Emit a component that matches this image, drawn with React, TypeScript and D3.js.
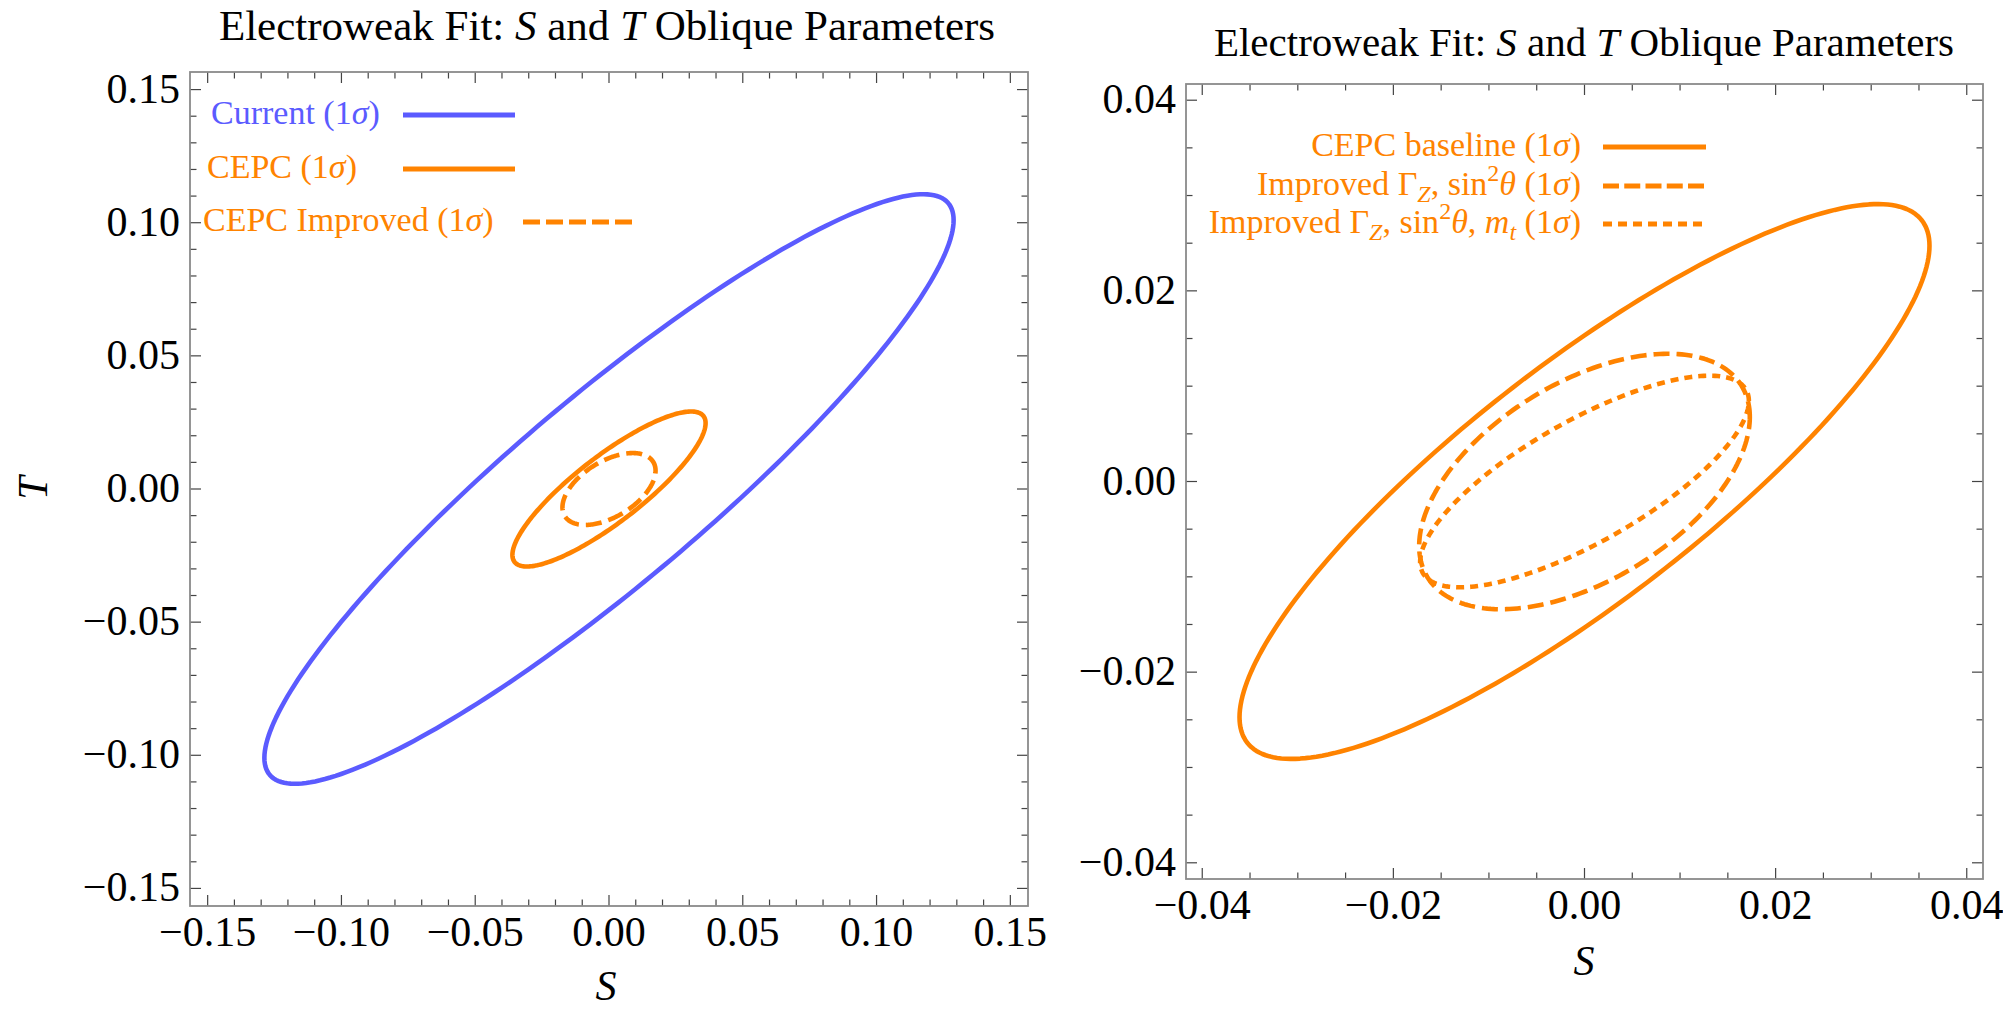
import React from "react";
import * as d3 from "d3";

// ---------- data ----------
// Left panel contours: S extent, T extent, correlation
const leftNames = ["Current", "CEPC", "CEPC Improved"];
const leftSExtent = [0.1288, 0.0361, 0.0174];
const leftTExtent = [0.1107, 0.0291, 0.0135];
const leftRho = [0.912, 0.85, 0.51];

// Right panel contours
const rightNames = ["CEPC baseline", "Improved GammaZ sin2theta", "Improved GammaZ sin2theta mt"];
const rightSExtent = [0.0361, 0.0173, 0.0172];
const rightTExtent = [0.0291, 0.0134, 0.0111];
const rightRho = [0.85, 0.505, 0.76];

const leftMajorTicks = [-0.15, -0.1, -0.05, 0, 0.05, 0.1, 0.15];
const rightMajorTicks = [-0.04, -0.02, 0, 0.02, 0.04];

// ---------- style ----------
const BLUE = "#5b5bff";
const ORANGE = "#ff8300";
const FONT = "'Liberation Serif', 'DejaVu Serif', serif";
const DASHED = "16 7";
const DOTTED = "8 6";

type Contour = { s: number; t: number; rho: number; color: string; dash?: string };

function ellipsePoints(c: Contour): [number, number][] {
  const n = 240;
  const pts: [number, number][] = [];
  const k = Math.sqrt(1 - c.rho * c.rho);
  for (let i = 0; i < n; i++) {
    const th = (2 * Math.PI * i) / n;
    pts.push([c.s * Math.cos(th), c.t * (c.rho * Math.cos(th) + k * Math.sin(th))]);
  }
  return pts;
}

const fmt = (v: number) => d3.format(".2f")(v).replace("-", "\u2212");

type PanelProps = {
  x0: number; x1: number; y0: number; y1: number;
  dom: number;
  major: number[];
  minorStep: number;
  contours: Contour[];
  clipId: string;
};

function Panel(p: PanelProps) {
  const xs = d3.scaleLinear().domain([-p.dom, p.dom]).range([p.x0, p.x1]);
  const ys = d3.scaleLinear().domain([-p.dom, p.dom]).range([p.y1, p.y0]);
  const minor = d3.range(Math.ceil(-p.dom / p.minorStep), Math.floor(p.dom / p.minorStep) + 1).map((i) => i * p.minorStep);
  const isMajor = (v: number) => p.major.some((m) => Math.abs(m - v) < p.minorStep / 10);
  const line = d3.line<[number, number]>().x((d) => xs(d[0])).y((d) => ys(d[1])).curve(d3.curveLinearClosed);
  const ML = 11, mL = 6.5;
  return (
    <g>
      <defs>
        <clipPath id={p.clipId}>
          <rect x={p.x0} y={p.y0} width={p.x1 - p.x0} height={p.y1 - p.y0} />
        </clipPath>
      </defs>
      <g clipPath={`url(#${p.clipId})`}>
        {p.contours.map((c, i) => (
          <path key={i} d={line(ellipsePoints(c)) || ""} fill="none" stroke={c.color} strokeWidth={4.6}
            strokeDasharray={c.dash} strokeLinejoin="round" />
        ))}
      </g>
      {/* ticks */}
      <g stroke="#444" strokeWidth={1.2}>
        {minor.map((v, i) => {
          const L = isMajor(v) ? ML : mL;
          const X = xs(v), Y = ys(v);
          return (
            <g key={i}>
              <line x1={X} x2={X} y1={p.y1} y2={p.y1 - L} />
              <line x1={X} x2={X} y1={p.y0} y2={p.y0 + L} />
              <line x1={p.x0} x2={p.x0 + L} y1={Y} y2={Y} />
              <line x1={p.x1} x2={p.x1 - L} y1={Y} y2={Y} />
            </g>
          );
        })}
      </g>
      <rect x={p.x0} y={p.y0} width={p.x1 - p.x0} height={p.y1 - p.y0} fill="none" stroke="#8a8a8a" strokeWidth={1.8} />
      {/* tick labels */}
      <g fontFamily={FONT} fontSize={42} fill="#000">
        {p.major.map((v, i) => (
          <text key={"x" + i} x={xs(v)} y={p.y1 + 40} textAnchor="middle">{fmt(v)}</text>
        ))}
        {p.major.map((v, i) => (
          <text key={"y" + i} x={p.x0 - 10} y={ys(v) + 13} textAnchor="end">{fmt(v)}</text>
        ))}
      </g>
    </g>
  );
}

export default function App() {
  const leftContours: Contour[] = leftNames.map((_, i) => ({
    s: leftSExtent[i], t: leftTExtent[i], rho: leftRho[i],
    color: i === 0 ? BLUE : ORANGE, dash: i === 2 ? DASHED : undefined,
  }));
  const rightContours: Contour[] = rightNames.map((_, i) => ({
    s: rightSExtent[i], t: rightTExtent[i], rho: rightRho[i],
    color: ORANGE, dash: i === 1 ? DASHED : i === 2 ? DOTTED : undefined,
  }));

  const L = { x0: 190, x1: 1028, y0: 72, y1: 906 };
  const R = { x0: 1186, x1: 1983, y0: 84, y1: 879 };

  return (
    <svg width={2003} height={1011} style={{ position: "absolute", left: 0, top: 0, background: "#fff" }}
      fontFamily={FONT}>
      <rect x={0} y={0} width={2003} height={1011} fill="#fff" />
      {/* titles */}
      <text x={607} y={40} textAnchor="middle" fontSize={43}>
        Electroweak Fit: <tspan fontStyle="italic">S</tspan> and <tspan fontStyle="italic">T</tspan> Oblique Parameters
      </text>
      <text x={1584} y={56} textAnchor="middle" fontSize={41}>
        Electroweak Fit: <tspan fontStyle="italic">S</tspan> and <tspan fontStyle="italic">T</tspan> Oblique Parameters
      </text>

      <Panel {...L} dom={0.1566} major={leftMajorTicks} minorStep={0.01} contours={leftContours} clipId="clipL" />
      <Panel {...R} dom={0.0417} major={rightMajorTicks} minorStep={0.005} contours={rightContours} clipId="clipR" />

      {/* axis labels */}
      <text x={606} y={1000} textAnchor="middle" fontSize={42} fontStyle="italic">S</text>
      <text x={1584} y={975} textAnchor="middle" fontSize={42} fontStyle="italic">S</text>
      <text transform="translate(47,488) rotate(-90)" textAnchor="middle" fontSize={42} fontStyle="italic">T</text>

      {/* left legend */}
      <g fontSize={34}>
        <text x={211} y={124} fill={BLUE}>Current (1<tspan fontStyle="italic">σ</tspan>)</text>
        <line x1={403} x2={515} y1={115} y2={115} stroke={BLUE} strokeWidth={5} />
        <text x={207} y={178} fill={ORANGE}>CEPC (1<tspan fontStyle="italic">σ</tspan>)</text>
        <line x1={403} x2={515} y1={169} y2={169} stroke={ORANGE} strokeWidth={5} />
        <text x={203} y={231} fill={ORANGE}>CEPC Improved (1<tspan fontStyle="italic">σ</tspan>)</text>
        <line x1={523} x2={632} y1={222} y2={222} stroke={ORANGE} strokeWidth={5} strokeDasharray="17 6" />
      </g>

      {/* right legend */}
      <g fontSize={34} fill={ORANGE}>
        <text x={1581} y={156} textAnchor="end">CEPC baseline (1<tspan fontStyle="italic">σ</tspan>)</text>
        <line x1={1603} x2={1706} y1={147} y2={147} stroke={ORANGE} strokeWidth={5} />
        <text x={1581} y={195} textAnchor="end">
          Improved Γ<tspan fontStyle="italic" fontSize={24} dy={7}>Z</tspan>
          <tspan dy={-7}>, sin</tspan>
          <tspan fontSize={24} dy={-14}>2</tspan>
          <tspan fontStyle="italic" dy={14}>θ</tspan> (1<tspan fontStyle="italic">σ</tspan>)
        </text>
        <line x1={1603} x2={1704} y1={186} y2={186} stroke={ORANGE} strokeWidth={5} strokeDasharray="16 5.25" />
        <text x={1581} y={233} textAnchor="end">
          Improved Γ<tspan fontStyle="italic" fontSize={24} dy={7}>Z</tspan>
          <tspan dy={-7}>, sin</tspan>
          <tspan fontSize={24} dy={-14}>2</tspan>
          <tspan fontStyle="italic" dy={14}>θ</tspan>, <tspan fontStyle="italic">m</tspan>
          <tspan fontStyle="italic" fontSize={24} dy={7}>t</tspan>
          <tspan dy={-7}> (1</tspan><tspan fontStyle="italic">σ</tspan>)
        </text>
        <line x1={1603} x2={1706} y1={224} y2={224} stroke={ORANGE} strokeWidth={5} strokeDasharray="9 6" />
      </g>
    </svg>
  );
}
